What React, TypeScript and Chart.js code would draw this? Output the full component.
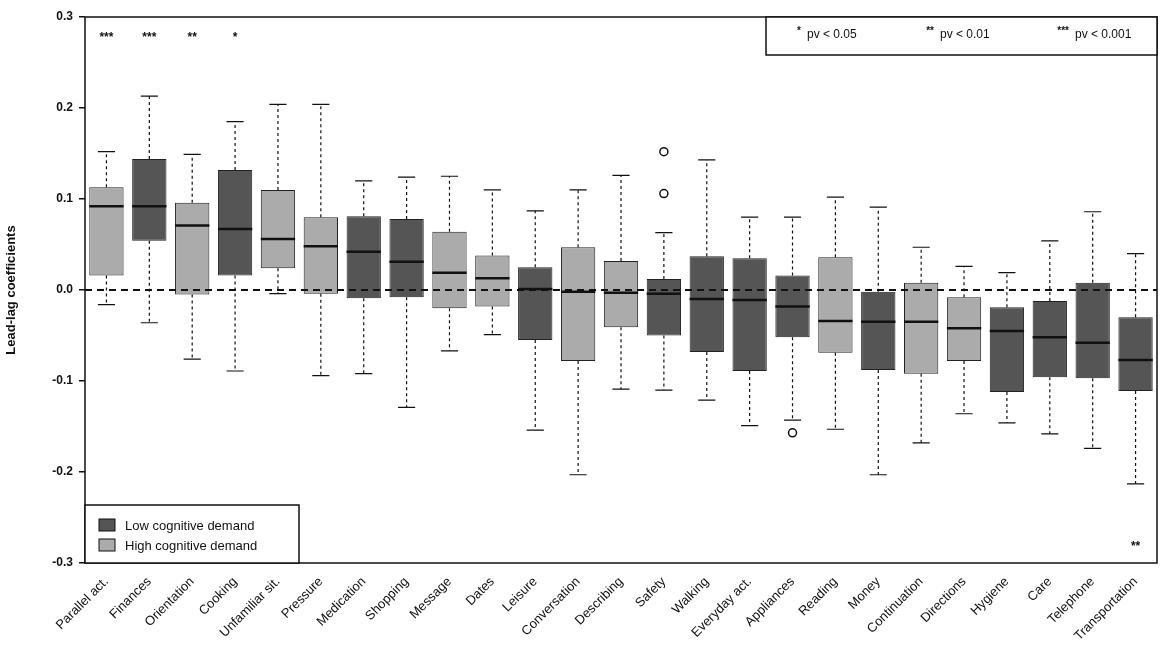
import { useEffect, useRef } from 'react'
import Chart from 'chart.js/auto'

const categories = ['Parallel act.', 'Finances', 'Orientation', 'Cooking', 'Unfamiliar sit.', 'Pressure', 'Medication', 'Shopping', 'Message', 'Dates', 'Leisure', 'Conversation', 'Describing', 'Safety', 'Walking', 'Everyday act.', 'Appliances', 'Reading', 'Money', 'Continuation', 'Directions', 'Hygiene', 'Care', 'Telephone', 'Transportation']
// 'L' = low cognitive demand, 'H' = high cognitive demand
const demand = ['H', 'L', 'H', 'L', 'H', 'H', 'L', 'L', 'H', 'H', 'L', 'H', 'H', 'L', 'L', 'L', 'L', 'H', 'L', 'H', 'H', 'L', 'L', 'L', 'L']
const whiskerLow = [-0.016, -0.036, -0.076, -0.089, -0.004, -0.094, -0.092, -0.129, -0.067, -0.049, -0.154, -0.203, -0.109, -0.11, -0.121, -0.149, -0.143, -0.153, -0.203, -0.168, -0.136, -0.146, -0.158, -0.174, -0.213]
const q1 = [0.016, 0.054, -0.005, 0.016, 0.024, -0.004, -0.009, -0.008, -0.02, -0.018, -0.055, -0.078, -0.041, -0.05, -0.068, -0.089, -0.052, -0.069, -0.088, -0.092, -0.078, -0.112, -0.096, -0.097, -0.111]
const median = [0.092, 0.092, 0.071, 0.067, 0.056, 0.048, 0.042, 0.031, 0.019, 0.013, 0.001, -0.002, -0.003, -0.004, -0.01, -0.011, -0.018, -0.034, -0.035, -0.035, -0.042, -0.045, -0.052, -0.058, -0.077]
const q3 = [0.113, 0.144, 0.096, 0.132, 0.11, 0.08, 0.081, 0.078, 0.064, 0.038, 0.025, 0.047, 0.032, 0.012, 0.037, 0.035, 0.016, 0.036, -0.002, 0.008, -0.008, -0.019, -0.012, 0.008, -0.03]
const whiskerHigh = [0.152, 0.213, 0.149, 0.185, 0.204, 0.204, 0.12, 0.124, 0.125, 0.11, 0.087, 0.11, 0.126, 0.063, 0.143, 0.08, 0.08, 0.102, 0.091, 0.047, 0.026, 0.019, 0.054, 0.086, 0.04]
const outliers: [number, number][] = [[13, 0.152], [13, 0.106], [16, -0.157]]
const stars: [number, string, number][] = [[0, '***', 0.28], [1, '***', 0.28], [2, '**', 0.28], [3, '*', 0.28], [24, '**', -0.28]]

const DARK = '#555555'
const LIGHT = '#ababab'
const FONT = 'Arial, "Liberation Sans"'

const boxPlugin = {
  id: 'boxExtras',
  afterDatasetsDraw(chart: any) {
    const { ctx, chartArea: a, scales } = chart
    const x = scales.x, y = scales.y
    const meta = chart.getDatasetMeta(0)
    ctx.save()
    // zero line
    ctx.strokeStyle = '#111'
    ctx.lineWidth = 2
    ctx.setLineDash([7, 5])
    ctx.beginPath()
    ctx.moveTo(a.left, y.getPixelForValue(0))
    ctx.lineTo(a.right, y.getPixelForValue(0))
    ctx.stroke()
    categories.forEach((_, i) => {
      const cx = x.getPixelForValue(i)
      const w = meta.data[i].width
      ctx.strokeStyle = '#111'
      ctx.lineWidth = 1.2
      ctx.setLineDash([3, 3])
      ctx.beginPath()
      ctx.moveTo(cx, y.getPixelForValue(q3[i]))
      ctx.lineTo(cx, y.getPixelForValue(whiskerHigh[i]))
      ctx.moveTo(cx, y.getPixelForValue(q1[i]))
      ctx.lineTo(cx, y.getPixelForValue(whiskerLow[i]))
      ctx.stroke()
      ctx.setLineDash([])
      ctx.beginPath()
      ctx.moveTo(cx - w / 4, y.getPixelForValue(whiskerHigh[i]))
      ctx.lineTo(cx + w / 4, y.getPixelForValue(whiskerHigh[i]))
      ctx.moveTo(cx - w / 4, y.getPixelForValue(whiskerLow[i]))
      ctx.lineTo(cx + w / 4, y.getPixelForValue(whiskerLow[i]))
      ctx.stroke()
      ctx.lineWidth = 2.5
      ctx.beginPath()
      ctx.moveTo(cx - w / 2, y.getPixelForValue(median[i]))
      ctx.lineTo(cx + w / 2, y.getPixelForValue(median[i]))
      ctx.stroke()
    })
    ctx.lineWidth = 1.5
    outliers.forEach(([i, v]) => {
      ctx.beginPath()
      ctx.arc(x.getPixelForValue(i), y.getPixelForValue(v), 4, 0, Math.PI * 2)
      ctx.stroke()
    })
    ctx.fillStyle = '#111'
    ctx.font = `bold 12px ${FONT}`
    ctx.textAlign = 'center'
    ctx.textBaseline = 'middle'
    stars.forEach(([i, s, v]) => ctx.fillText(s, x.getPixelForValue(i), y.getPixelForValue(v) + 2))
    // frame
    ctx.lineWidth = 1.5
    ctx.strokeRect(a.left, a.top, a.right - a.left, a.bottom - a.top)
    // significance legend
    ctx.fillStyle = '#fff'
    ctx.fillRect(766, a.top, a.right - 766, 38)
    ctx.strokeRect(766, a.top, a.right - 766, 38)
    ctx.fillStyle = '#111'
    const sig: [string, string, number][] = [['*', 'pv < 0.05', 801], ['**', 'pv < 0.01', 934], ['***', 'pv < 0.001', 1069]]
    sig.forEach(([s, t, px]) => {
      ctx.font = `bold 10px ${FONT}`
      ctx.textAlign = 'right'
      ctx.fillText(s, px, a.top + 14)
      ctx.font = `12px ${FONT}`
      ctx.textAlign = 'left'
      ctx.fillText(t, px + 6, a.top + 18)
    })
    // demand legend
    const lx = a.left, ly = 505
    ctx.fillStyle = '#fff'
    ctx.fillRect(lx, ly, 214, a.bottom - ly)
    ctx.strokeRect(lx, ly, 214, a.bottom - ly)
    const items: [string, string][] = [[DARK, 'Low cognitive demand'], [LIGHT, 'High cognitive demand']]
    items.forEach(([c, t], k) => {
      const yy = ly + 20 + k * 20
      ctx.fillStyle = c
      ctx.fillRect(lx + 14, yy - 6, 16, 12)
      ctx.lineWidth = 1
      ctx.strokeRect(lx + 14, yy - 6, 16, 12)
      ctx.fillStyle = '#111'
      ctx.font = `13px ${FONT}`
      ctx.textAlign = 'left'
      ctx.fillText(t, lx + 40, yy + 1)
    })
    ctx.restore()
  },
}

export default function App() {
  const ref = useRef<HTMLCanvasElement>(null)
  useEffect(() => {
    if (!ref.current) return
    const chart = new Chart(ref.current, {
      type: 'bar',
      data: {
        labels: categories,
        datasets: [{
          data: categories.map((_, i) => [q1[i], q3[i]]) as any,
          backgroundColor: demand.map(d => (d === 'L' ? DARK : LIGHT)),
          borderColor: '#222',
          borderWidth: 1,
          borderSkipped: false,
          barPercentage: 0.8,
          categoryPercentage: 1,
        }],
      },
      options: {
        animation: false,
        responsive: false,
        layout: { padding: { top: 17, right: 3, left: 0 } },
        plugins: { legend: { display: false }, tooltip: { enabled: false } },
        scales: {
          x: {
            grid: { display: false },
            border: { display: false },
            offset: true,
            afterFit: (s: any) => { s.height = 92 },
            ticks: { color: '#111', font: { size: 13, family: FONT }, minRotation: 45, maxRotation: 45, autoSkip: false },
          },
          y: {
            min: -0.3,
            max: 0.3,
            grid: { drawOnChartArea: false, drawTicks: true, tickLength: 6, color: '#111', lineWidth: 1.5 },
            border: { display: false },
            afterFit: (s: any) => { s.width = 85 },
            afterBuildTicks: (s: any) => { s.ticks = [-0.3, -0.2, -0.1, 0, 0.1, 0.2, 0.3].map(v => ({ value: v })) },
            ticks: { color: '#111', padding: 6, font: { size: 12, weight: 'bold', family: FONT }, callback: (v: any) => Number(v).toFixed(1) },
            title: { display: true, text: 'Lead-lag coefficients', color: '#111', font: { size: 13, weight: 'bold', family: FONT } },
          },
        },
      },
      plugins: [boxPlugin],
    } as any)
    return () => chart.destroy()
  }, [])
  return (
    <div style={{ position: 'fixed', left: 0, top: 0, background: '#fff' }}>
      <canvas ref={ref} width={1160} height={655} />
    </div>
  )
}
